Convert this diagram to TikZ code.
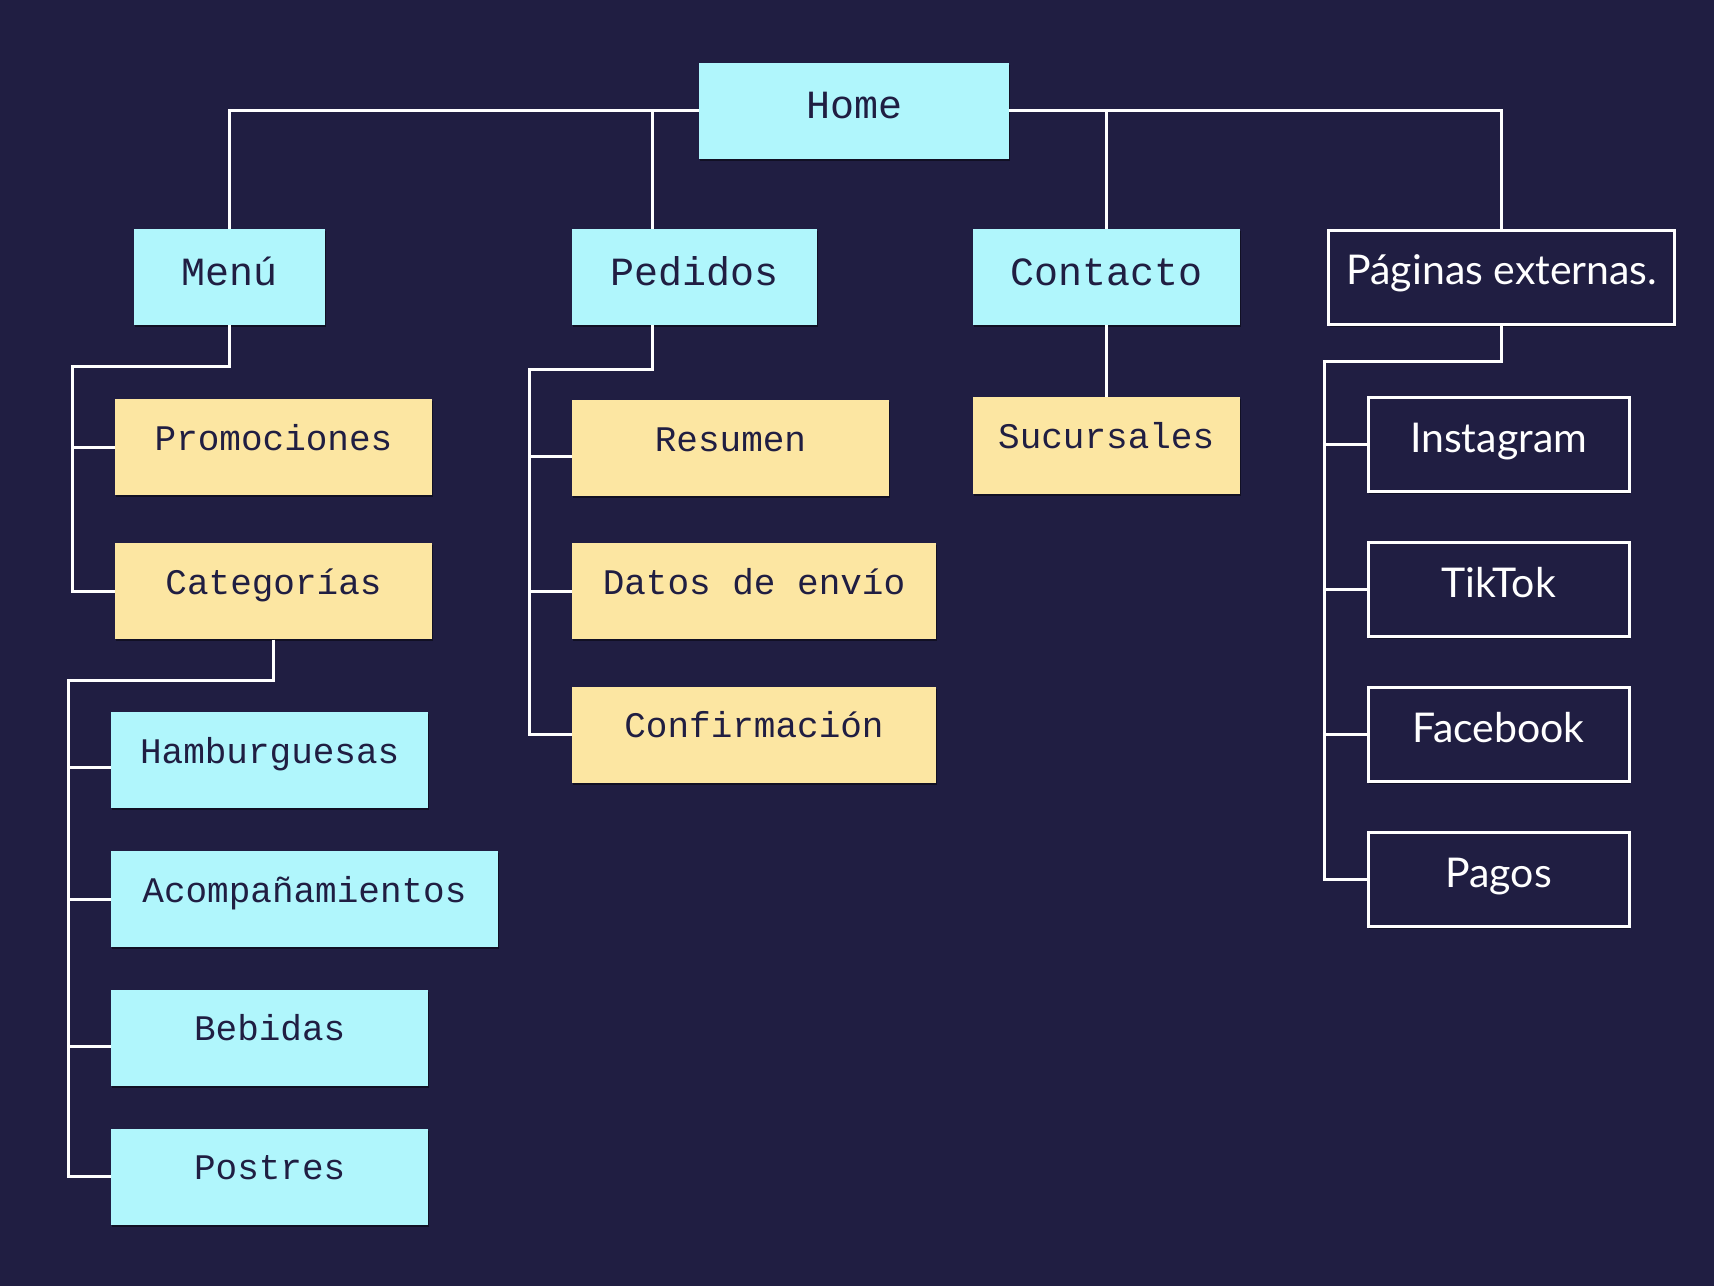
\documentclass[tikz,border=0pt]{standalone}
\usepackage{fontspec}
\setmonofont{Liberation Mono}
\newfontfamily\latofont{Lato}
\usetikzlibrary{positioning}
\usetikzlibrary{shadows}

\definecolor{bgnavy}{HTML}{201E42}
\definecolor{pagecyan}{HTML}{B0F6FC}
\definecolor{subyellow}{HTML}{FCE6A2}

\begin{document}
\begin{tikzpicture}[x=0.5pt, y=-0.5pt,
	basebox/.style={minimum height=48pt, inner sep=0pt, text=bgnavy,
		font=\ttfamily\fontsize{18pt}{20pt}\selectfont,
		drop shadow={shadow xshift=0.6pt, shadow yshift=-1pt, fill=black, opacity=0.45}},
	pagebox/.style={basebox, fill=pagecyan, font=\ttfamily\fontsize{20pt}{22pt}\selectfont,
		text height=8.2pt, text depth=0pt},
	subbox/.style={basebox, fill=subyellow, text height=3pt, text depth=0pt},
	itembox/.style={basebox, fill=pagecyan, text height=3pt, text depth=0pt},
	extbox/.style={draw=white, line width=1.5pt, fill=bgnavy, text=white, inner sep=0pt,
		font=\latofont\fontsize{20.5pt}{24pt}\selectfont, text height=7.7pt, text depth=0pt,
		drop shadow={shadow xshift=0.6pt, shadow yshift=-1pt, fill=black, opacity=0.45}},
	wire/.style={draw=white, line width=1.5pt}]

	\path [use as bounding box, fill=bgnavy] (0,0) rectangle (1714,1286);

	\node[pagebox, minimum width=155pt] (home) at (854,110.5) {Home};
	\node[pagebox, minimum width=95.5pt] (menu) at (229.5,277) {Menú};
	\node[pagebox, minimum width=122.5pt] (ped) at (694.5,277) {Pedidos};
	\node[pagebox, minimum width=133.5pt] (cont) at (1106.2,277) {Contacto};
	\node[extbox, minimum width=173pt, minimum height=47.25pt] (ext) at (1501.9,277.25) {Páginas externas.};

	\node[subbox, minimum width=158.5pt] (promo) at (273.5,447.4) {Promociones};
	\node[subbox, minimum width=158.5pt] (cat) [below=23.5pt of promo] {Categorías};

	\node[itembox, minimum width=158.5pt] (hamb) at (269.7,760.25) {Hamburguesas};
	\node[itembox, minimum width=193.25pt] (acomp) [below=21pt of hamb.south west, anchor=north west] {Acompañamientos};
	\node[itembox, minimum width=158.5pt] (beb) [below=21pt of acomp.south west, anchor=north west] {Bebidas};
	\node[itembox, minimum width=158.5pt] (post) [below=21pt of beb] {Postres};

	\node[subbox, minimum width=158.5pt] (res) at (730.5,448) {Resumen};
	\node[subbox, minimum width=182pt] (envio) [below=23.25pt of res.south west, anchor=north west] {Datos de envío};
	\node[subbox, minimum width=182pt] (conf) [below=23.25pt of envio] {Confirmación};

	\node[subbox, minimum width=133.5pt, minimum height=48.25pt] (suc) [below=35.75pt of cont] {Sucursales};

	\node[extbox, minimum width=130.6pt, minimum height=47pt] (ig) at (1498.6,444.5) {Instagram};
	\node[extbox, minimum width=130.6pt, minimum height=47pt] (tt) [below=24pt of ig] {TikTok};
	\node[extbox, minimum width=130.6pt, minimum height=47pt] (fb) [below=24pt of tt] {Facebook};
	\node[extbox, minimum width=130.6pt, minimum height=47pt] (pag) [below=24pt of fb] {Pagos};

	% bus corners
	\coordinate (mbus) at (72,366);
	\coordinate (cbus) at (68.6,680);
	\coordinate (pbus) at (529,369.5);
	\coordinate (ebus) at (1324.6,361);

	\path [draw, wire] (home.west) -| (menu.north);
	\path [draw, wire] (home.west) -| ([xshift=40.5pt]ped.north west);
	\path [draw, wire] (home.east) -| (cont.north);
	\path [draw, wire] (home.east) -| (ext.north);

	\path [draw, wire] (menu.south) |- (mbus) |- (cat.west);
	\path [draw, wire] (mbus) |- (promo.west);

	\path [draw, wire] (cat.south) |- (cbus) |- (post.west);
	\path [draw, wire] (cbus) |- ([yshift=-3.5pt]hamb.west);
	\path [draw, wire] (cbus) |- (acomp.west);
	\path [draw, wire] (cbus) |- ([yshift=-4.5pt]beb.west);

	\path [draw, wire] ([xshift=40.5pt]ped.south west) |- (pbus) |- (conf.west);
	\path [draw, wire] (pbus) |- ([yshift=-4pt]res.west);
	\path [draw, wire] (pbus) |- (envio.west);

	\path [draw, wire] (cont.south) -- (suc.north);

	\path [draw, wire] (ext.south) |- (ebus) |- (pag.west);
	\path [draw, wire] (ebus) |- (ig.west);
	\path [draw, wire] (ebus) |- (tt.west);
	\path [draw, wire] (ebus) |- (fb.west);
\end{tikzpicture}
\end{document}
